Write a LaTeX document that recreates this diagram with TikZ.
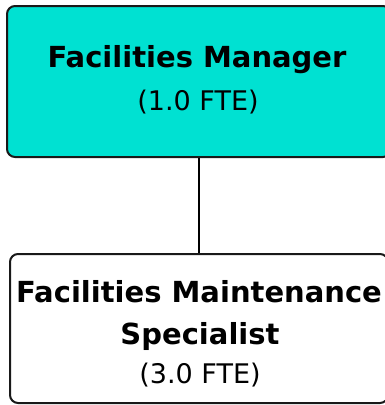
\documentclass[tikz,border=0pt]{standalone}
\usepackage{fontspec}
\setmainfont{DejaVu Sans}
\definecolor{tealfill}{RGB}{0,225,210}
\definecolor{edge}{RGB}{25,25,25}
\begin{document}
\begin{tikzpicture}[x=1pt,y=1pt,
  box/.style={draw=edge, line width=2pt, rounded corners=8pt, inner sep=0pt},
  title/.style={anchor=base, inner sep=0pt, font=\fontsize{29}{34}\selectfont\bfseries},
  sub/.style={anchor=base, inner sep=0pt, font=\fontsize{27}{32}\selectfont},
  conn/.style={draw=black, line width=2.8pt}]
\useasboundingbox (0,0) rectangle (384,-405);
\node[box, fill=tealfill, minimum width=384pt, minimum height=151pt] (mgr) at (199,-81.5) {};
\node[box, fill=white, minimum width=378pt, minimum height=149pt] (spec) at (199,-328.5) {};
\draw[conn] (mgr.south) -- (spec.north);
\node[title] (t1) at (197,-67) {Facilities Manager};
\node[sub] (t2) at (198,-110) {(1.0 FTE)};
\node[title] (s1) at (199,-302) {Facilities Maintenance};
\node[title] (s2) at (200,-344) {Specialist};
\node[sub] (s3) at (200,-383) {(3.0 FTE)};
\end{tikzpicture}
\end{document}
